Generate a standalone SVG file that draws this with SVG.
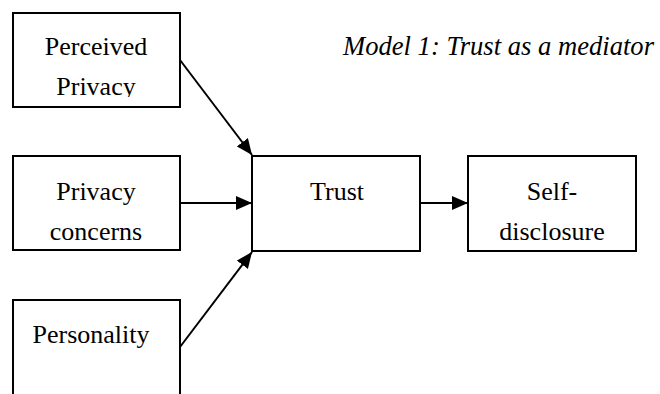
<svg xmlns="http://www.w3.org/2000/svg" width="660" height="394" viewBox="0 0 660 394">
  <style>
    .box { fill: #fff; stroke: #000; stroke-width: 2; }
    .lbl { font-family: "Liberation Serif", "Times New Roman", serif; font-size: 26px; fill: #000; text-anchor: middle; }
    .title { font-family: "Liberation Serif", "Times New Roman", serif; font-size: 26.6px; font-style: italic; fill: #000; }
    .edge { stroke: #000; stroke-width: 2; fill: none; marker-end: url(#arrow); }
  </style>
  <defs>
    <marker id="arrow" markerUnits="userSpaceOnUse" markerWidth="16" markerHeight="14" refX="16" refY="7" orient="auto">
      <path d="M0,0 L16,7 L0,14 z" fill="#000"/>
    </marker>
    <clipPath id="clip-perceived">
      <rect x="13" y="13" width="166" height="84"/>
    </clipPath>
  </defs>
  <rect width="660" height="394" fill="#fff"/>

  <text class="title" x="343" y="55">Model 1: Trust as a mediator</text>

  <g id="connectors">
    <line class="edge" x1="180" y1="60" x2="252" y2="155"/>
    <line class="edge" x1="180" y1="203" x2="252" y2="203"/>
    <line class="edge" x1="180" y1="347" x2="252" y2="252"/>
    <line class="edge" x1="420" y1="203" x2="468" y2="203"/>
  </g>

  <g id="perceived-privacy">
    <rect class="box" x="13" y="13" width="167" height="94"/>
    <g clip-path="url(#clip-perceived)">
      <text class="lbl" x="96" y="55">Perceived</text>
      <text class="lbl" x="96" y="95">Privacy</text>
    </g>
  </g>

  <g id="privacy-concerns">
    <rect class="box" x="13" y="156" width="167" height="94"/>
    <text class="lbl" x="96" y="200">Privacy</text>
    <text class="lbl" x="96" y="240">concerns</text>
  </g>

  <g id="personality">
    <rect class="box" x="13" y="300" width="167" height="110"/>
    <text class="lbl" x="91" y="343">Personality</text>
  </g>

  <g id="trust">
    <rect class="box" x="252" y="156" width="168" height="95"/>
    <text class="lbl" x="337" y="200">Trust</text>
  </g>

  <g id="self-disclosure">
    <rect class="box" x="468" y="156" width="168" height="95"/>
    <text class="lbl" x="552" y="200">Self-</text>
    <text class="lbl" x="552" y="240">disclosure</text>
  </g>
</svg>
